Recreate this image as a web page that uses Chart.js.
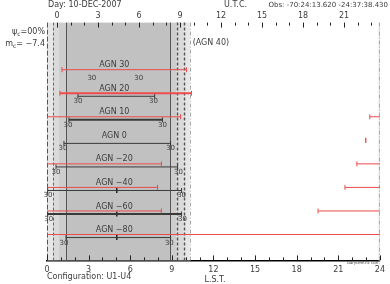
<!DOCTYPE html>
<html>
<head>
<meta charset="utf-8">
<script src="https://cdn.jsdelivr.net/npm/chart.js@4.4.0/dist/chart.umd.min.js"></script>
<style>
  html, body { margin: 0; padding: 0; background: #fff; }
  #wrap { width: 390px; height: 284px; }
</style>
</head>
<body>
<div id="wrap"><canvas id="obsChart"></canvas></div>
<script>
const targets = ["AGN 40", "AGN 30", "AGN 20", "AGN 10", "AGN 0", "AGN −20", "AGN −40", "AGN −60", "AGN −80"];
// red segments, LST hours
const redSegs = [
  [],
  [[1.08, 10.06]],
  [[0.93, 10.42]],
  [[0, 9.63], [23.27, 24]],
  [[22.98, 22.98]],
  [[0, 8.25], [22.34, 24]],
  [[0, 7.97], [21.48, 24]],
  [[0, 8.25], [19.54, 24]],
  [[0, 24]]
];
// observable windows (black)
const obsWindows = [null, null, [2.23, 7.76], [1.58, 8.33], [1.22, 8.91], [0.65, 9.41], [0.05, 9.7], [0.05, 9.7], [1.37, 8.91]];
// 30 deg elevation crossings
const elev30 = [null, [3.16, 6.54], [2.16, 7.6], [1.44, 8.26], [1.08, 8.84], [0.57, 9.41], [0.0, 9.63], [0.05, 9.7], [1.15, 8.75]];
const transit = [null, null, null, null, null, null, 5.03, 5.03, 5.03];
const lstTicks = [0, 3, 6, 9, 12, 15, 18, 21, 24];
const utcTicks = [0, 3, 6, 9, 12, 15, 18, 21];
// twilight, LST
const sunset = 23.9, civilEve = 0.43, nautEve = 0.86, astroEve = 1.37;
const astroMorn = 8.9, nautMorn = 9.34, civilMorn = 9.85, sunrise = 10.3;

const FONT = '"DejaVu Sans", sans-serif';
const RED = "#ec4c4c";
const TXT = "#3c3c3c";

const datasets = [];
redSegs.forEach((segs, i) => {
  segs.forEach(([a, b]) => {
    datasets.push({
      data: [{ x: a, y: i }, { x: b, y: i }],
      showLine: true,
      borderColor: RED,
      borderWidth: i === 2 ? 2 : 1,
      pointStyle: "line",
      rotation: 90,
      pointRadius: (c) => (c.raw && (c.raw.x <= 0 || c.raw.x >= 24) ? 0 : 2.5),
      pointBorderColor: RED,
      pointBorderWidth: 1,
    });
  });
});
obsWindows.forEach((w, i) => {
  if (!w) return;
  const thick = i === 3 || i === 7;
  datasets.push({
    data: [{ x: w[0], y: i + 0.13 }, { x: w[1], y: i + 0.13 }],
    showLine: true,
    borderColor: "#3a3a3a",
    borderWidth: thick ? 2 : 1,
    pointStyle: "line",
    rotation: 90,
    pointRadius: 2.5,
    pointBorderColor: "#3a3a3a",
    pointBorderWidth: 1,
  });
});
transit.forEach((t, i) => {
  if (t === null) return;
  datasets.push({
    data: [{ x: t, y: i + 0.13 }],
    pointStyle: "line",
    rotation: 90,
    pointRadius: 2.5,
    pointBorderColor: "#222",
    pointBorderWidth: 1.5,
  });
});

const decor = {
  id: "decor",
  beforeDatasetsDraw(chart) {
    const { ctx, chartArea: a, scales } = chart;
    const x = scales.x, x2 = scales.x2;
    ctx.save();
    const bands = [
      [sunset, 24, "#e7e7e7"], [0, civilEve, "#e7e7e7"],
      [civilEve, nautEve, "#dadada"], [nautEve, astroEve, "#cdcdcd"],
      [astroEve, astroMorn, "#c1c1c1"],
      [astroMorn, nautMorn, "#cdcdcd"], [nautMorn, civilMorn, "#dadada"],
      [civilMorn, sunrise, "#e7e7e7"],
    ];
    bands.forEach(([s, e, col]) => {
      const p1 = x.getPixelForValue(s), p2 = x.getPixelForValue(e);
      ctx.fillStyle = col;
      ctx.fillRect(p1, a.top, p2 - p1, a.bottom - a.top);
    });
    const vline = (v, col, dash, w) => {
      const p = Math.round(x.getPixelForValue(v)) + 0.5;
      ctx.beginPath();
      ctx.strokeStyle = col;
      ctx.lineWidth = w;
      ctx.setLineDash(dash);
      ctx.moveTo(p, a.top);
      ctx.lineTo(p, a.bottom);
      ctx.stroke();
    };
    vline(0, "#555", [5, 2], 1);
    vline(civilEve, "#666", [3, 2], 1);
    vline(astroEve, "#555", [], 1);
    vline(astroMorn, "#555", [], 1);
    vline(nautMorn, "#555", [3, 2], 1.5);
    vline(civilMorn, "#555", [3, 2], 1.5);
    vline(sunrise, "#aaa", [4, 2, 1, 2], 1);
    vline(sunset, "#aaa", [4, 2, 1, 2], 1);
    ctx.setLineDash([]);
    ctx.strokeStyle = "#222";
    ctx.lineWidth = 1;
    // bottom ticks (LST)
    for (let h = 0; h <= 24; h++) {
      const p = Math.round(x.getPixelForValue(h)) + 0.5;
      const len = h % 3 === 0 ? 5 : 3;
      ctx.beginPath();
      ctx.moveTo(p, a.bottom);
      ctx.lineTo(p, a.bottom - len);
      ctx.stroke();
    }
    // top ticks (UTC)
    for (let h = 0; h <= 23; h++) {
      const p = Math.round(x2.getPixelForValue(h)) + 0.5;
      const len = h % 3 === 0 ? 5 : 3;
      ctx.beginPath();
      ctx.moveTo(p, a.top);
      ctx.lineTo(p, a.top + len);
      ctx.stroke();
    }
    ctx.restore();
  },
  afterDatasetsDraw(chart) {
    const { ctx, chartArea: a, scales } = chart;
    const x = scales.x, y = scales.y;
    ctx.save();
    ctx.fillStyle = TXT;
    ctx.textBaseline = "middle";
    // row labels
    ctx.font = "8px " + FONT;
    ctx.textAlign = "center";
    targets.forEach((t, i) => {
      if (i === 0) return;
      ctx.fillText(t, x.getPixelForValue(4.85), y.getPixelForValue(i - 0.19));
    });
    ctx.textAlign = "left";
    ctx.fillText("(" + targets[0] + ")", x.getPixelForValue(10.5), y.getPixelForValue(-0.13));
    // 30 deg labels
    ctx.font = "7px " + FONT;
    ctx.textAlign = "center";
    elev30.forEach((e, i) => {
      if (!e) return;
      e.forEach((v) => ctx.fillText("30", x.getPixelForValue(v) + 1, y.getPixelForValue(i + 0.35)));
    });
    // header
    ctx.font = "8px " + FONT;
    ctx.textAlign = "left";
    ctx.fillText("Day: 10-DEC-2007", 48, 5);
    ctx.fillText("U.T.C.", 224, 5);
    ctx.font = "7px " + FONT;
    ctx.textAlign = "right";
    ctx.fillText("Obs: -70:24:13.620 -24:37:38.430", 388, 5);
    // moon info
    ctx.font = "8px " + FONT;
    const sub = (pre, rest, yy) => {
      ctx.textAlign = "left";
      const w1 = ctx.measureText(pre).width;
      ctx.font = "6px " + FONT;
      const w2 = ctx.measureText("c").width;
      ctx.font = "8px " + FONT;
      const w3 = ctx.measureText(rest).width;
      const x0 = 45 - w1 - w2 - w3;
      ctx.fillText(pre, x0, yy);
      ctx.font = "6px " + FONT;
      ctx.fillText("c", x0 + w1, yy + 2);
      ctx.font = "8px " + FONT;
      ctx.fillText(rest, x0 + w1 + w2, yy);
    };
    sub("ψ", "=00%", 32);
    sub("m", "= −7.4", 44);
    // bottom notes
    ctx.textAlign = "left";
    ctx.fillText("Configuration: U1-U4", 47, 277);
    ctx.textAlign = "center";
    ctx.fillText("L.S.T.", 215, 280);
    ctx.font = "4px " + FONT;
    ctx.textAlign = "right";
    ctx.fillText("barycentric corr.", a.right, a.bottom + 3);
    ctx.restore();
  },
};

new Chart(document.getElementById("obsChart"), {
  type: "scatter",
  data: { datasets },
  options: {
    responsive: true,
    maintainAspectRatio: false,
    animation: false,
    layout: { padding: { left: 47, right: 9, top: 9, bottom: 4 } },
    plugins: { legend: { display: false }, tooltip: { enabled: false } },
    scales: {
      x: {
        type: "linear",
        position: "bottom",
        min: 0,
        max: 24,
        afterBuildTicks: (s) => { s.ticks = lstTicks.map((v) => ({ value: v })); },
        ticks: { font: { family: FONT, size: 8 }, color: TXT, padding: 5, maxRotation: 0, autoSkip: false },
        grid: { display: false, drawTicks: false },
        border: { display: true, color: "#000", width: 1.5 },
      },
      x2: {
        type: "linear",
        position: "top",
        min: -0.73,
        max: 23.63,
        afterBuildTicks: (s) => { s.ticks = utcTicks.map((v) => ({ value: v })); },
        ticks: { font: { family: FONT, size: 8 }, color: TXT, padding: 2, maxRotation: 0, autoSkip: false },
        grid: { display: false, drawTicks: false },
        border: { display: false },
      },
      y: { type: "linear", min: -1, max: 9.1, reverse: true, display: false },
    },
  },
  plugins: [decor],
});
</script>
</body>
</html>
